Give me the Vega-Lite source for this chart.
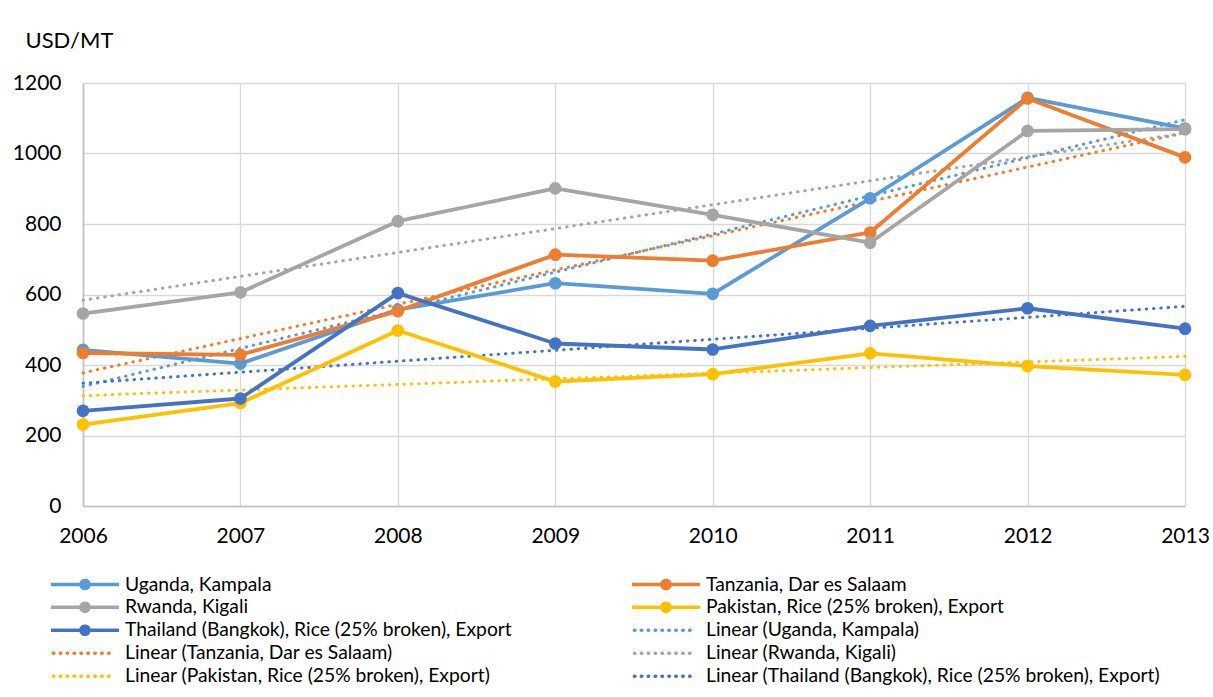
{
  "$schema": "https://vega.github.io/schema/vega-lite/v6.json",
  "width": 1102,
  "height": 423,
  "autosize": "none",
  "padding": {"left": 83, "top": 83, "right": 28, "bottom": 191},
  "background": "white",
  "config": {
    "font": "Lato",
    "view": {"stroke": null},
    "axis": {
      "gridColor": "#D9D9D9",
      "gridWidth": 1.3,
      "domainColor": "#BFBFBF",
      "domainWidth": 1.6,
      "ticks": false,
      "tickSize": 0,
      "labelFont": "Lato",
      "labelFontSize": 21,
      "labelColor": "#000000"
    }
  },
  "data": {
    "values": [
      {"series": "Uganda, Kampala", "trend": "Linear (Uganda, Kampala)", "year": 2006, "price": 443},
      {"series": "Uganda, Kampala", "trend": "Linear (Uganda, Kampala)", "year": 2007, "price": 404},
      {"series": "Uganda, Kampala", "trend": "Linear (Uganda, Kampala)", "year": 2008, "price": 557},
      {"series": "Uganda, Kampala", "trend": "Linear (Uganda, Kampala)", "year": 2009, "price": 632},
      {"series": "Uganda, Kampala", "trend": "Linear (Uganda, Kampala)", "year": 2010, "price": 602},
      {"series": "Uganda, Kampala", "trend": "Linear (Uganda, Kampala)", "year": 2011, "price": 873},
      {"series": "Uganda, Kampala", "trend": "Linear (Uganda, Kampala)", "year": 2012, "price": 1158},
      {"series": "Uganda, Kampala", "trend": "Linear (Uganda, Kampala)", "year": 2013, "price": 1071},
      {"series": "Tanzania, Dar es Salaam", "trend": "Linear (Tanzania, Dar es Salaam)", "year": 2006, "price": 434},
      {"series": "Tanzania, Dar es Salaam", "trend": "Linear (Tanzania, Dar es Salaam)", "year": 2007, "price": 429},
      {"series": "Tanzania, Dar es Salaam", "trend": "Linear (Tanzania, Dar es Salaam)", "year": 2008, "price": 553},
      {"series": "Tanzania, Dar es Salaam", "trend": "Linear (Tanzania, Dar es Salaam)", "year": 2009, "price": 713},
      {"series": "Tanzania, Dar es Salaam", "trend": "Linear (Tanzania, Dar es Salaam)", "year": 2010, "price": 696},
      {"series": "Tanzania, Dar es Salaam", "trend": "Linear (Tanzania, Dar es Salaam)", "year": 2011, "price": 776},
      {"series": "Tanzania, Dar es Salaam", "trend": "Linear (Tanzania, Dar es Salaam)", "year": 2012, "price": 1156},
      {"series": "Tanzania, Dar es Salaam", "trend": "Linear (Tanzania, Dar es Salaam)", "year": 2013, "price": 989},
      {"series": "Rwanda, Kigali", "trend": "Linear (Rwanda, Kigali)", "year": 2006, "price": 546},
      {"series": "Rwanda, Kigali", "trend": "Linear (Rwanda, Kigali)", "year": 2007, "price": 606},
      {"series": "Rwanda, Kigali", "trend": "Linear (Rwanda, Kigali)", "year": 2008, "price": 808},
      {"series": "Rwanda, Kigali", "trend": "Linear (Rwanda, Kigali)", "year": 2009, "price": 901},
      {"series": "Rwanda, Kigali", "trend": "Linear (Rwanda, Kigali)", "year": 2010, "price": 826},
      {"series": "Rwanda, Kigali", "trend": "Linear (Rwanda, Kigali)", "year": 2011, "price": 747},
      {"series": "Rwanda, Kigali", "trend": "Linear (Rwanda, Kigali)", "year": 2012, "price": 1064},
      {"series": "Rwanda, Kigali", "trend": "Linear (Rwanda, Kigali)", "year": 2013, "price": 1069},
      {"series": "Pakistan, Rice (25% broken), Export", "trend": "Linear (Pakistan, Rice (25% broken), Export)", "year": 2006, "price": 231},
      {"series": "Pakistan, Rice (25% broken), Export", "trend": "Linear (Pakistan, Rice (25% broken), Export)", "year": 2007, "price": 292},
      {"series": "Pakistan, Rice (25% broken), Export", "trend": "Linear (Pakistan, Rice (25% broken), Export)", "year": 2008, "price": 498},
      {"series": "Pakistan, Rice (25% broken), Export", "trend": "Linear (Pakistan, Rice (25% broken), Export)", "year": 2009, "price": 353},
      {"series": "Pakistan, Rice (25% broken), Export", "trend": "Linear (Pakistan, Rice (25% broken), Export)", "year": 2010, "price": 374},
      {"series": "Pakistan, Rice (25% broken), Export", "trend": "Linear (Pakistan, Rice (25% broken), Export)", "year": 2011, "price": 433},
      {"series": "Pakistan, Rice (25% broken), Export", "trend": "Linear (Pakistan, Rice (25% broken), Export)", "year": 2012, "price": 397},
      {"series": "Pakistan, Rice (25% broken), Export", "trend": "Linear (Pakistan, Rice (25% broken), Export)", "year": 2013, "price": 372},
      {"series": "Thailand (Bangkok), Rice (25% broken), Export", "trend": "Linear (Thailand (Bangkok), Rice (25% broken), Export)", "year": 2006, "price": 270},
      {"series": "Thailand (Bangkok), Rice (25% broken), Export", "trend": "Linear (Thailand (Bangkok), Rice (25% broken), Export)", "year": 2007, "price": 305},
      {"series": "Thailand (Bangkok), Rice (25% broken), Export", "trend": "Linear (Thailand (Bangkok), Rice (25% broken), Export)", "year": 2008, "price": 604},
      {"series": "Thailand (Bangkok), Rice (25% broken), Export", "trend": "Linear (Thailand (Bangkok), Rice (25% broken), Export)", "year": 2009, "price": 461},
      {"series": "Thailand (Bangkok), Rice (25% broken), Export", "trend": "Linear (Thailand (Bangkok), Rice (25% broken), Export)", "year": 2010, "price": 444},
      {"series": "Thailand (Bangkok), Rice (25% broken), Export", "trend": "Linear (Thailand (Bangkok), Rice (25% broken), Export)", "year": 2011, "price": 511},
      {"series": "Thailand (Bangkok), Rice (25% broken), Export", "trend": "Linear (Thailand (Bangkok), Rice (25% broken), Export)", "year": 2012, "price": 561},
      {"series": "Thailand (Bangkok), Rice (25% broken), Export", "trend": "Linear (Thailand (Bangkok), Rice (25% broken), Export)", "year": 2013, "price": 503}
    ]
  },
  "encoding": {
    "x": {
      "field": "year",
      "type": "quantitative",
      "scale": {"domain": [2006, 2013], "nice": false, "zero": false},
      "axis": {
        "title": null,
        "values": [2006, 2007, 2008, 2009, 2010, 2011, 2012, 2013],
        "format": "d",
        "labelPadding": 19,
        "labelFlush": false,
        "grid": true
      }
    },
    "y": {
      "field": "price",
      "type": "quantitative",
      "scale": {"domain": [0, 1200], "nice": false},
      "axis": {
        "title": "USD/MT",
        "titleAngle": 0,
        "titleAlign": "left",
        "titleBaseline": "middle",
        "titleX": -58,
        "titleY": -43,
        "titleFont": "Lato",
        "titleFontSize": 22,
        "titleFontWeight": "normal",
        "titleColor": "#000000",
        "values": [0, 200, 400, 600, 800, 1000, 1200],
        "format": "d",
        "labelPadding": 22,
        "grid": true
      }
    }
  },
  "layer": [
    {
      "transform": [
        {"regression": "price", "on": "year", "groupby": ["series", "trend"]}
      ],
      "mark": {"type": "line", "strokeWidth": 3, "strokeCap": "round", "strokeDash": [0.5, 6.8]},
      "encoding": {
        "color": {
          "field": "trend",
          "type": "nominal",
          "scale": {
            "domain": [
              "Uganda, Kampala", "Rwanda, Kigali",
              "Thailand (Bangkok), Rice (25% broken), Export", "Linear (Tanzania, Dar es Salaam)",
              "Linear (Pakistan, Rice (25% broken), Export)", "Tanzania, Dar es Salaam",
              "Pakistan, Rice (25% broken), Export", "Linear (Uganda, Kampala)",
              "Linear (Rwanda, Kigali)", "Linear (Thailand (Bangkok), Rice (25% broken), Export)"
            ],
            "range": [
              "#5B9BD5", "#A5A5A5", "#4472C4", "#ED7D31", "#FFC000",
              "#ED7D31", "#FFC000", "#5B9BD5", "#A5A5A5", "#4472C4"
            ]
          },
          "legend": {
            "title": null,
            "orient": "none",
            "legendX": -34,
            "legendY": 490,
            "columns": 2,
            "columnPadding": 118,
            "rowPadding": 0,
            "clipHeight": 22.5,
            "padding": 0,
            "symbolSize": 4624,
            "symbolStrokeWidth": 3.5,
            "labelFont": "Lato",
            "labelFontSize": 19.3,
            "labelColor": "#000000",
            "labelOffset": 4,
            "labelLimit": 600,
            "encode": {
              "symbols": {
                "update": {
                  "size": {"value": 4624},
                  "strokeWidth": {"value": 3.5},
                  "shape": {"signal": "substring(datum.value, 0, 6) === 'Linear' ? 'M-0.93,0H0.88' : 'M-1,0H1M0.12,0A0.12,0.12 0 1 1 -0.12,0A0.12,0.12 0 1 1 0.12,0Z'"},
                  "stroke": {"scale": "color", "field": "value"},
                  "fill": {"signal": "substring(datum.value, 0, 6) === 'Linear' ? 'transparent' : scale('color', datum.value)"},
                  "strokeDash": {"signal": "substring(datum.value, 0, 6) === 'Linear' ? [0.5, 6.4] : [1, 0]"},
                  "strokeCap": {"signal": "substring(datum.value, 0, 6) === 'Linear' ? 'round' : 'butt'"},
                  "opacity": {"value": 1}
                }
              }
            }
          }
        }
      }
    },
    {
      "mark": {"type": "line", "strokeWidth": 3.8, "strokeJoin": "round"},
      "encoding": {
        "color": {"field": "series", "type": "nominal"}
      }
    },
    {
      "mark": {"type": "point", "shape": "circle", "filled": true, "opacity": 1, "size": 160},
      "encoding": {
        "color": {"field": "series", "type": "nominal"}
      }
    }
  ]
}
